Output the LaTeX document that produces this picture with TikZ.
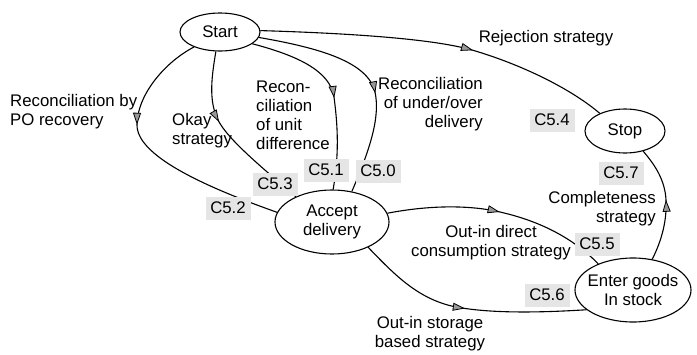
\documentclass[tikz,border=0pt]{standalone}
\usepackage{fontspec}
\setmainfont{Liberation Sans}
\usetikzlibrary{shapes.geometric,arrows.meta,decorations.markings}

\begin{document}
\begin{tikzpicture}[x=1pt,y=-1pt,
    every node/.style={font=\fontsize{16.8}{19}\selectfont},
    state/.style={draw,ellipse,line width=1.1pt,inner sep=0pt,align=center},
    cbox/.style={fill=black!10,minimum width=45pt,minimum height=23pt,inner sep=0pt},
    txt/.style={inner sep=0pt},
    flow/.style={line width=1.1pt},
    midarrow/.style={postaction={decorate,decoration={markings,
        mark=at position #1 with {\arrow{Triangle[length=12pt,width=8pt,fill=black!40,line width=0.8pt]}}}}}]
    \useasboundingbox (0,0) rectangle (697,354);

    % States
    \node[state,minimum width=80pt,minimum height=38pt] (start) at (220,32) {Start};
    \node[state,minimum width=80pt,minimum height=44pt] (stop) at (625,131) {Stop};
    \node[state,minimum width=114pt,minimum height=64pt] (accept) at (332,222) {Accept\\delivery};
    \node[state,minimum width=116pt,minimum height=64pt,inner xsep=-6pt] (enter) at (633,290) {Enter goods\\In stock};

    % Strategies from start
    \draw[flow,midarrow=0.37] (start.210) .. controls (165,62) and (137,95) .. (137,125)
        .. controls (137,155) and (200,185) .. (accept.170);
    \draw[flow,midarrow=0.4] (start.258) .. controls (212,75) and (208,100) .. (218,120)
        .. controls (228,140) and (265,170) .. (accept.145);
    \draw[flow,midarrow=0.53] (start.340) .. controls (295,55) and (330,70) .. (334,97)
        .. controls (337,120) and (340,150) .. (accept.88);
    \draw[flow,midarrow=0.57] (start.352) .. controls (320,48) and (368,62) .. (375,92)
        .. controls (380,115) and (372,145) .. (accept.57);
    \draw[flow,midarrow=0.6] (start.2) .. controls (340,33) and (430,38) .. (472,50)
        .. controls (520,64) and (570,88) .. (stop.145);

    % Strategies to stock
    \draw[flow,midarrow=0.53] (enter.58) .. controls (662,240) and (667,220) .. (666,200)
        .. controls (665,180) and (655,165) .. (stop.312);
    \draw[flow,midarrow=0.5] (accept.9) .. controls (430,205) and (470,205) .. (500,212)
        .. controls (535,220) and (570,235) .. (enter.143);
    \draw[flow,midarrow=0.49] (accept.325) .. controls (395,275) and (420,302) .. (462,308)
        .. controls (500,314) and (550,312) .. (enter.203);

    % Condition labels
    \node[cbox] (c50) at (378,171) {C5.0};
    \node[cbox] (c51) at (326,170) {C5.1};
    \node[cbox] (c52) at (228,208) {C5.2};
    \node[cbox] (c53) at (275,184) {C5.3};
    \node[cbox] (c54) at (552,120) {C5.4};
    \node[cbox] (c55) at (597,244) {C5.5};
    \node[cbox] (c56) at (547,295) {C5.6};
    \node[cbox] (c57) at (621,173) {C5.7};

    % Strategy names
    \node[txt,anchor=west,align=left] (porec) at (10,112) {Reconciliation by\\PO recovery};
    \node[txt,anchor=west,align=left] (okay) at (172,131) {Okay\\strategy};
    \node[txt,anchor=west,align=left] (unitdiff) at (256,115) {Recon-\\ciliation\\of unit\\difference};
    \node[txt,anchor=east,align=right] (underover) at (483,104) {Reconciliation\\of under/over\\delivery};
    \node[txt] (reject) at (546,38) {Rejection strategy};
    \node[txt,anchor=east,align=right] (complete) at (656,209) {Completeness\\strategy};
    \node[txt,align=center] (direct) at (491,243) {Out-in direct\\consumption strategy};
    \node[txt,align=center] (storage) at (430,334) {Out-in storage\\based strategy};
\end{tikzpicture}
\end{document}
